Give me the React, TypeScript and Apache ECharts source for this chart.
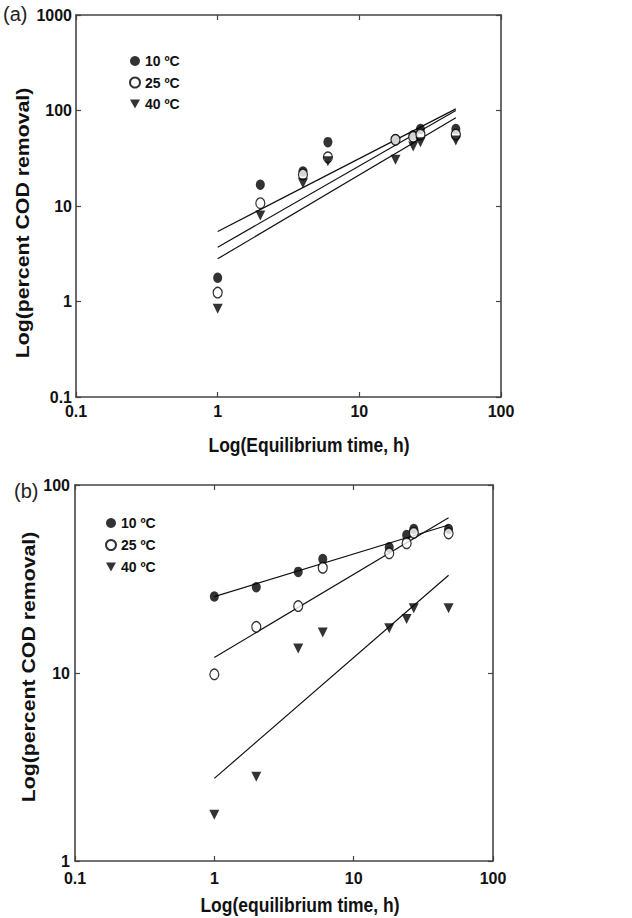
import React, { useEffect, useRef } from "react";
import * as echarts from "echarts";

const timeH = [1, 2, 4, 6, 18, 24, 27, 48];
const fitX = [1, 48];

// Panel (a)
const a10 = [1.77, 16.7, 23, 46.6, 50, 55, 64, 64];
const a25 = [1.24, 10.7, 21.4, 32.4, 49.4, 53, 56, 56];
const a40 = [0.84, 7.95, 17.3, 29.4, 30.5, 42, 46.6, 48.5];
const aFit10 = [5.41, 104];
const aFit25 = [3.7, 100];
const aFit40 = [2.8, 83.8];

// Panel (b)
const b10 = [25.5, 28.6, 34.5, 40.4, 46.6, 54.2, 58.3, 58.3];
const b25 = [9.84, 17.6, 22.7, 36.3, 43.3, 49, 55.7, 55.3];
const b40 = [1.76, 2.81, 13.5, 16.4, 17.3, 19.4, 22.1, 22.1];
const bFit10 = [25.5, 61.3];
const bFit25 = [12.1, 67];
const bFit40 = [2.75, 33.1];

const seriesNames = ["10 ºC", "25 ºC", "40 ºC"];
const xTitleA = "Log(Equilibrium time, h)";
const xTitleB = "Log(equilibrium time, h)";
const yTitle = "Log(percent COD removal)";

const FONT = "'Liberation Sans', Arial, sans-serif";
const AX = "#444";
const TRI = "path://M0,0L10,0L5,9Z";

const pairs = (xs: number[], ys: number[]) => xs.map((x, i) => [x, ys[i]]);
const fmt = (v: number) => (v < 1 ? v.toFixed(1) : String(Math.round(v)));

function axisPair(gridIndex: number, min: number, max: number, isX: boolean, margin: number) {
  const common = {
    type: "log" as const,
    logBase: 10,
    gridIndex,
    min,
    max,
    axisLine: { show: true, lineStyle: { color: AX, width: 1.6 } },
    axisTick: { show: true, inside: true, length: 5, lineStyle: { color: AX, width: 1.2 } },
    minorTick: { show: false },
    splitLine: { show: false },
  };
  return [
    {
      ...common,
      position: isX ? "bottom" : "left",
      axisLabel: {
        show: true,
        formatter: fmt,
        fontFamily: FONT,
        fontWeight: "bold",
        fontSize: 16,
        color: "#111",
        margin,
      },
    },
    {
      ...common,
      position: isX ? "top" : "right",
      axisLabel: { show: false },
    },
  ];
}

function scatterSeries(xi: number, yi: number, d10: number[], d25: number[], d40: number[]) {
  return [
    {
      type: "scatter",
      name: seriesNames[0],
      xAxisIndex: xi,
      yAxisIndex: yi,
      symbol: "circle",
      symbolSize: [9, 10.5],
      itemStyle: { color: "#000" },
      data: pairs(timeH, d10),
      z: 3,
    },
    {
      type: "scatter",
      name: seriesNames[1],
      xAxisIndex: xi,
      yAxisIndex: yi,
      symbol: "circle",
      symbolSize: [9, 10.5],
      itemStyle: { color: "#fff", borderColor: "#000", borderWidth: 1.3 },
      data: pairs(timeH, d25),
      z: 4,
    },
    {
      type: "scatter",
      name: seriesNames[2],
      xAxisIndex: xi,
      yAxisIndex: yi,
      symbol: TRI,
      symbolSize: [10, 10],
      itemStyle: { color: "#000" },
      data: pairs(timeH, d40),
      z: 5,
    },
  ];
}

function fitSeries(xi: number, yi: number, fits: number[][], tag: string) {
  return fits.map((f, i) => ({
    type: "line",
    name: tag + i,
    xAxisIndex: xi,
    yAxisIndex: yi,
    showSymbol: false,
    symbol: "none",
    silent: true,
    lineStyle: { color: "#111", width: 1.2 },
    data: pairs(fitX, f),
    z: 2,
  }));
}

export default function App() {
  const ref = useRef<HTMLDivElement>(null);
  useEffect(() => {
    if (!ref.current) return;
    const chart = echarts.init(ref.current, null, { renderer: "svg" });
    const titleStyle = {
      fontFamily: FONT,
      fontWeight: "bold",
      fontSize: 18,
      fill: "#111",
      align: "center",
      verticalAlign: "middle",
    };
    const legendText = { fontFamily: FONT, fontWeight: "bold", fontSize: 14, color: "#111", lineHeight: 14 };
    chart.setOption({
      animation: false,
      backgroundColor: "#fff",
      grid: [
        { left: 76, top: 15, width: 425, height: 382, containLabel: false },
        { left: 75, top: 485, width: 418, height: 376, containLabel: false },
      ],
      xAxis: [...axisPair(0, 0.1, 100, true, 6), ...axisPair(1, 0.1, 100, true, 9)],
      yAxis: [...axisPair(0, 0.1, 1000, false, 4), ...axisPair(1, 1, 100, false, 5)],
      legend: [
        {
          data: seriesNames,
          orient: "vertical",
          left: 124,
          top: 49,
          itemWidth: 10,
          itemHeight: 11,
          itemGap: 7.5,
          selectedMode: false,
          textStyle: legendText,
        },
        {
          data: seriesNames,
          orient: "vertical",
          left: 100,
          top: 511,
          itemWidth: 10,
          itemHeight: 11,
          itemGap: 8,
          selectedMode: false,
          textStyle: legendText,
        },
      ],
      graphic: [
        {
          type: "text",
          left: 3,
          top: 4,
          style: { text: "(a)", fontFamily: FONT, fontSize: 20, fill: "#222" },
        },
        {
          type: "text",
          left: 14,
          top: 481,
          style: { text: "(b)", fontFamily: FONT, fontSize: 20, fill: "#222" },
        },
        {
          type: "text",
          x: 309,
          y: 445,
          scaleY: 1.2,
          style: { ...titleStyle, text: xTitleA, fontSize: 17.5 },
        },
        {
          type: "text",
          x: 300,
          y: 905,
          scaleY: 1.2,
          style: { ...titleStyle, text: xTitleB, fontSize: 17.5 },
        },
        {
          type: "text",
          x: 22,
          y: 223,
          rotation: Math.PI / 2,
          scaleX: 1.12,
          style: { ...titleStyle, text: yTitle, fontSize: 19 },
        },
        {
          type: "text",
          x: 28,
          y: 667,
          rotation: Math.PI / 2,
          scaleX: 1.12,
          style: { ...titleStyle, text: yTitle, fontSize: 19 },
        },
      ],
      series: [
        ...fitSeries(0, 0, [aFit10, aFit25, aFit40], "fitA"),
        ...scatterSeries(0, 0, a10, a25, a40),
        ...fitSeries(2, 2, [bFit10, bFit25, bFit40], "fitB"),
        ...scatterSeries(2, 2, b10, b25, b40),
      ],
    });
    return () => chart.dispose();
  }, []);
  return (
    <div
      ref={ref}
      style={{ position: "absolute", left: 0, top: 0, width: 632, height: 918, background: "#fff" }}
    />
  );
}
